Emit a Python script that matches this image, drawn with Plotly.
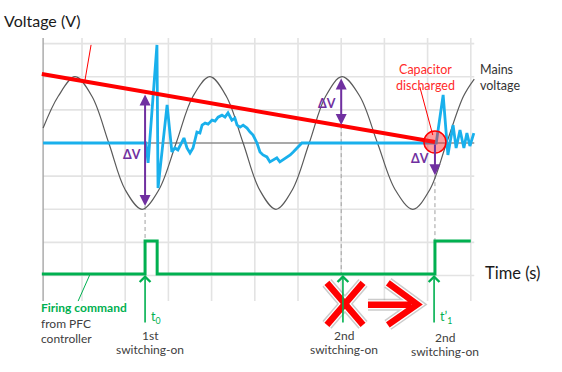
import plotly.graph_objects as go

# ---------------- data (time units = grid cells, voltage units = grid cells) ----------------
grid_t = [1, 2, 3, 4, 5, 6, 7, 8, 9, 10]
grid_v = [-4, -3, -2, -1, 1, 2, 3]

mains_t = [0.10, 0.45, 0.84, 1.23, 1.62, 2.00, 2.39, 2.78, 3.18, 3.57, 3.96, 4.34, 4.73, 5.11,
           5.49, 5.87, 6.26, 6.64, 7.02, 7.43, 7.84, 8.25, 8.66, 9.05, 9.44, 9.83, 10.08]
mains_v = [0.45, 1.41, 2.00, 1.41, 0.00, -1.41, -2.00, -1.41, 0.00, 1.41, 2.00, 1.41, 0.00, -1.41,
           -2.00, -1.41, 0.00, 1.41, 2.00, 1.41, 0.00, -1.41, -2.00, -1.41, 0.00, 1.41, 1.93]

cap_t = [0.10, 2.48, 2.53, 2.735, 2.76, 2.97, 3.08, 3.15, 3.22, 3.36, 3.43, 3.50, 3.57, 3.66,
         3.73, 3.78, 3.85, 3.92, 4.01, 4.08, 4.15, 4.24, 4.31, 4.38, 4.47, 4.54, 4.59, 4.66,
         4.73, 4.82, 4.89, 4.96, 5.05, 5.12, 5.19, 5.28, 5.35, 5.42, 5.51, 5.58, 5.65, 5.75,
         5.82, 5.89, 5.98, 6.09, 9.20, 9.36, 9.47, 9.59, 9.66, 9.75, 9.84, 9.91, 9.98, 10.07]
cap_v = [0.00, 0.00, -0.60, 2.96, -1.36, 1.15, -0.27, -0.15, -0.21, 0.15, -0.15, -0.30, -0.15, 0.33,
         0.30, 0.54, 0.60, 0.57, 0.69, 0.66, 0.78, 0.84, 0.78, 0.91, 0.69, 0.75, 0.54, 0.48,
         0.54, 0.45, 0.33, 0.24, 0.00, -0.27, -0.36, -0.42, -0.57, -0.51, -0.45, -0.57, -0.51, -0.42,
         -0.36, -0.27, -0.15, 0.00, 0.00, 1.45, -0.36, 0.54, -0.15, 0.39, -0.15, 0.30, -0.09, 0.30]

env_t = [0.07, 9.17]
env_v = [2.08, 0.03]

fire_t = [0.07, 2.46, 2.46, 2.74, 2.74, 9.17, 9.17, 10.0]
fire_v = [-3.95, -3.95, -2.96, -2.96, -3.95, -3.95, -2.96, -2.96]

dv_t = [2.46, 7.00, 9.17]
dv_top = [1.51, 1.99, 0.00]
dv_bot = [-1.90, 0.54, -0.97]
dv_double = [True, True, False]
dv_label = ["ΔV", "ΔV", "ΔV"]

switch_t = [2.46, 7.04, 9.15]
switch_order = ["1st", "2nd", "2nd"]
switch_word = ["switching-on", "switching-on", "switching-on"]
switch_time_label = ["t<sub>0</sub>", "", "t’<sub>1</sub>"]

discharged_t = [9.17]
discharged_v = [0.03]

# ---------------- styling constants ----------------
FONT = "Lato"
GRID = "#e3e3e3"
DARK = "#404040"
PURPLE = "#7030a0"
GREEN = "#00b050"
RED = "#ff0000"
BLUE = "#19b0ec"

X0, X1 = -0.898, 12.111
Y0, Y1 = -6.910, 4.315
T_LEFT, T_RIGHT = 0.10, 10.08
V_TOP, V_BOT = 3.17, -4.77
BASE = -3.95

fig = go.Figure()

# grid
gx, gy = [], []
for t in grid_t:
    gx += [t, t, None]
    gy += [V_BOT, V_TOP, None]
for v in grid_v:
    gx += [T_LEFT, T_RIGHT, None]
    gy += [v, v, None]
fig.add_trace(go.Scatter(x=gx, y=gy, mode="lines", line=dict(color=GRID, width=1.6), hoverinfo="skip"))
# left axis and zero line
fig.add_trace(go.Scatter(x=[T_LEFT, T_LEFT], y=[V_BOT, V_TOP], mode="lines",
                         line=dict(color="#a6a6a6", width=1.4), hoverinfo="skip"))
fig.add_trace(go.Scatter(x=[T_LEFT, T_RIGHT], y=[0, 0], mode="lines",
                         line=dict(color="#8c8c8c", width=1.4), hoverinfo="skip"))

# dashed guide lines
dx, dy = [], []
guide_from = [dv_bot[0], dv_bot[1], dv_bot[2]]
guide_to = [fire_v[2], BASE, fire_v[6]]
for t, a, b in zip(dv_t, guide_from, guide_to):
    dx += [t, t, None]
    dy += [a, b, None]
fig.add_trace(go.Scatter(x=dx, y=dy, mode="lines", line=dict(color="#a0a0a0", width=1, dash="4px,3px"),
                         hoverinfo="skip"))

# mains voltage
fig.add_trace(go.Scatter(x=mains_t, y=mains_v, mode="lines",
                         line=dict(color="#5a5a5a", width=1.2, shape="spline", smoothing=1.0),
                         hoverinfo="skip"))
# capacitor voltage
fig.add_trace(go.Scatter(x=cap_t, y=cap_v, mode="lines", line=dict(color=BLUE, width=2.8), hoverinfo="skip"))
# envelope
fig.add_trace(go.Scatter(x=env_t, y=env_v, mode="lines", line=dict(color=RED, width=4), hoverinfo="skip"))
# firing command
fig.add_trace(go.Scatter(x=fire_t, y=fire_v, mode="lines", line=dict(color=GREEN, width=3), hoverinfo="skip"))
# discharged marker
fig.add_trace(go.Scatter(x=discharged_t, y=discharged_v, mode="markers",
                         marker=dict(size=22, color="rgba(255,40,40,0.45)", line=dict(color=RED, width=1.5)),
                         hoverinfo="skip"))

shapes = []
# callout pointers
shapes.append(dict(type="line", x0=1.21, y0=2.96, x1=1.07, y1=1.90, line=dict(color=RED, width=1)))
shapes.append(dict(type="line", x0=8.82, y0=1.69, x1=9.12, y1=0.24, line=dict(color=RED, width=1)))
shapes.append(dict(type="line", x0=1.19, y0=-3.95, x1=0.91, y1=-4.77, line=dict(color=GREEN, width=1)))

# big red X and arrow
x_path = "M 6.67,-4.22 L 7.505,-5.49 M 7.505,-4.22 L 6.67,-5.49"
arrow_path = "M 7.62,-4.88 L 8.62,-4.88 M 8.08,-4.22 L 8.76,-4.87 L 8.08,-5.49"
for p in (x_path, arrow_path):
    shapes.append(dict(type="path", path=p, line=dict(color="rgba(140,140,140,0.45)", width=12)))
    shapes.append(dict(type="path", path=p, line=dict(color="white", width=9)))
    shapes.append(dict(type="path", path=p, line=dict(color=RED, width=6.5)))

annotations = []
# ΔV arrows
for t, a, b, dbl in zip(dv_t, dv_top, dv_bot, dv_double):
    annotations.append(dict(x=t, y=b, ax=t, ay=a, xref="x", yref="y", axref="x", ayref="y",
                            text="", showarrow=True, arrowhead=2, arrowsize=1.1, arrowwidth=2,
                            arrowcolor=PURPLE, arrowside="end+start" if dbl else "end",
                            startarrowhead=2, startarrowsize=1.1))
dv_label_pos = [(2.16, -0.36), (6.67, 1.18), (8.82, -0.48)]
for lab, (lx, ly) in zip(dv_label, dv_label_pos):
    annotations.append(dict(x=lx, y=ly, text="<b>" + lab + "</b>", showarrow=False,
                            font=dict(family=FONT, size=12.5, color=PURPLE)))

# switching arrows and labels
label_x = [2.575, 7.07, 9.40]
label_y1 = [-5.82, -5.82, -5.88]
label_y2 = [-6.22, -6.22, -6.28]
for i, t in enumerate(switch_t):
    annotations.append(dict(x=t, y=BASE - 0.03, ax=t, ay=-5.46, xref="x", yref="y", axref="x", ayref="y",
                            text="", showarrow=True, arrowhead=4, arrowsize=1.3, arrowwidth=1.6,
                            arrowcolor=GREEN))
    annotations.append(dict(x=label_x[i], y=label_y1[i], text=switch_order[i], showarrow=False,
                            font=dict(family=FONT, size=12, color=DARK)))
    annotations.append(dict(x=label_x[i], y=label_y2[i], text=switch_word[i], showarrow=False,
                            font=dict(family=FONT, size=12, color=DARK)))
    if switch_time_label[i]:
        annotations.append(dict(x=t + 0.08, y=-5.28, xanchor="left", text=switch_time_label[i], showarrow=False,
                                font=dict(family=FONT, size=12.5, color=GREEN)))

annotations += [
    dict(x=-0.85, y=3.71, xanchor="left", text="Voltage (V)", showarrow=False,
         font=dict(family=FONT, size=16, color="#1a1a1a")),
    dict(x=10.29, y=-3.92, xanchor="left", text="Time (s)", showarrow=False,
         font=dict(family=FONT, size=16.5, color="#1a1a1a")),
    dict(x=8.96, y=1.99, text="Capacitor<br>discharged", showarrow=False,
         font=dict(family=FONT, size=12.5, color="#ff2b2b")),
    dict(x=10.17, y=1.99, xanchor="left", align="left", text="Mains<br>voltage", showarrow=False,
         font=dict(family=FONT, size=12.5, color="#333333")),
    dict(x=0.005, y=-5.43, xanchor="left", align="left",
         text="<span style='color:#00b050'><b>Firing command</b></span><br>from PFC<br>controller",
         showarrow=False, font=dict(family=FONT, size=12, color=DARK)),
]

fig.update_layout(
    width=562, height=372, margin=dict(l=0, r=0, t=0, b=0),
    paper_bgcolor="white", plot_bgcolor="white", showlegend=False,
    xaxis=dict(range=[X0, X1], visible=False, fixedrange=True),
    yaxis=dict(range=[Y0, Y1], visible=False, fixedrange=True),
    shapes=shapes, annotations=annotations,
)

fig.write_html("out.html", config=dict(displayModeBar=False),
               post_script="document.body.style.margin='0';document.body.style.overflow='hidden';")
